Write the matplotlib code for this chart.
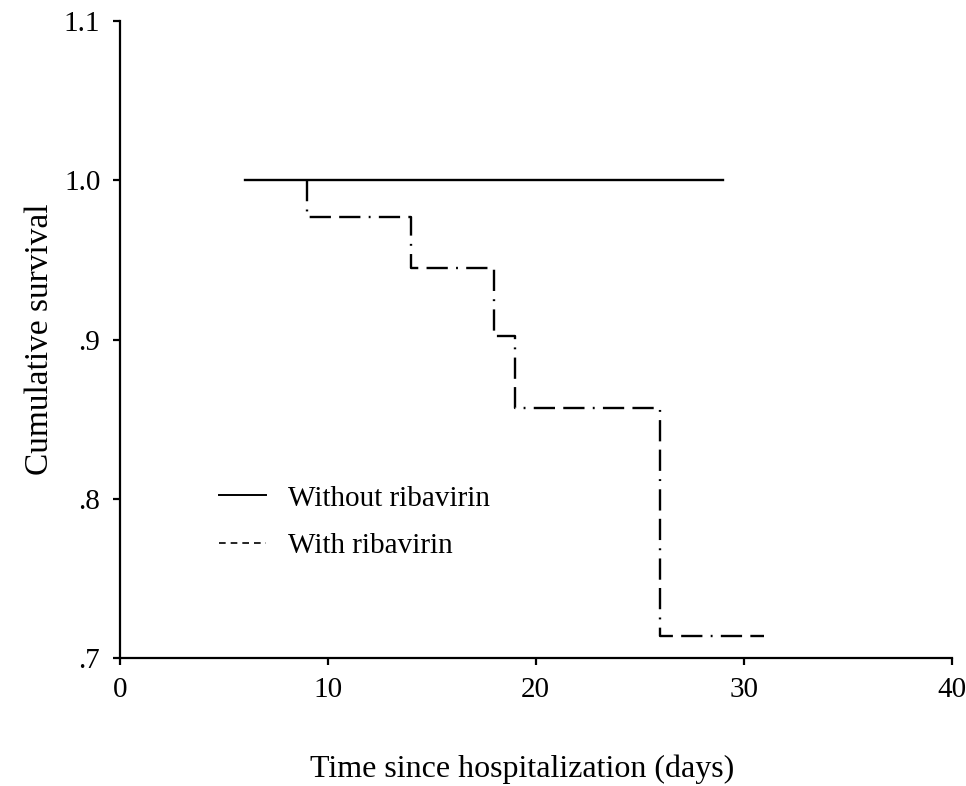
import matplotlib
matplotlib.use("Agg")
import matplotlib.pyplot as plt
from matplotlib.lines import Line2D

plt.rcParams.update({
    "font.family": "Liberation Serif",
    "figure.facecolor": (1.0, 1.0, 1.0, 1.0),
})

# Kaplan-Meier steps
without_days = [6, 29]
without_surv = [1.0, 1.0]

with_days = [9, 9, 14, 18, 19, 26, 31]
with_surv = [1.0, 0.977, 0.945, 0.902, 0.857, 0.714, 0.714]

y_ticks = [0.7, 0.8, 0.9, 1.0, 1.1]
y_tick_labels = [".7", ".8", ".9", "1.0", "1.1"]
x_ticks = [0, 10, 20, 30, 40]

fig = plt.figure(figsize=(9.66, 7.86), dpi=100)
ax = fig.add_axes([0.124, 0.163, 0.861, 0.810])

ax.step(without_days, without_surv, where="post", color="k", lw=1.7)
ax.step(with_days, with_surv, where="post", color="k", lw=1.7,
        linestyle=(0, (9, 3.5, 0.8, 3.5, 9, 3.5)))

ax.set_xlim(0, 40)
ax.set_ylim(0.7, 1.1)
ax.set_xticks(x_ticks)
ax.set_yticks(y_ticks)
ax.set_yticklabels(y_tick_labels)

for side in ("top", "right"):
    ax.spines[side].set_visible(False)
for side in ("left", "bottom"):
    ax.spines[side].set_linewidth(1.6)
ax.tick_params(direction="out", length=5, width=1.6, labelsize=21, pad=9)

ax.set_xlabel("Time since hospitalization (days)", fontsize=23)
ax.xaxis.set_label_coords(0.484, -0.152)
ax.set_ylabel("Cumulative survival", fontsize=24)
ax.yaxis.set_label_coords(-0.078, 0.5)

handles = [
    Line2D([], [], color="k", lw=1.4),
    Line2D([], [], color="k", lw=1.2, linestyle=(0, (4, 3))),
]
ax.legend(handles, ["Without ribavirin", "With ribavirin"],
          loc="center left", bbox_to_anchor=(0.088, 0.213),
          frameon=False, fontsize=21, handlelength=1.6,
          handletextpad=0.75, labelspacing=0.73)

fig.savefig("out.png", dpi=100, facecolor="w")
